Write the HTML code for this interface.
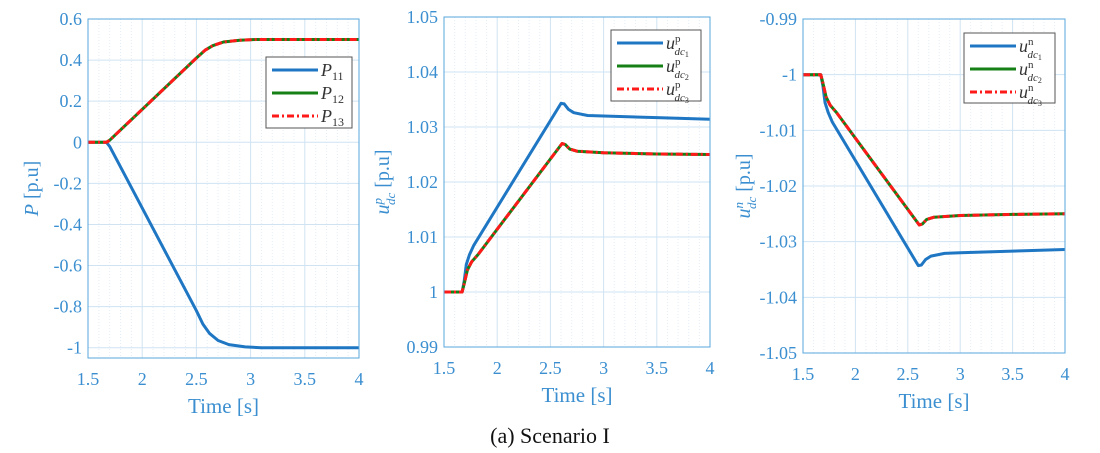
<!DOCTYPE html>
<html><head><meta charset="utf-8"><style>
html,body{margin:0;padding:0;background:#fff;}
svg{display:block;font-family:"Liberation Serif",serif;}
</style></head><body>
<svg id="s" width="1100" height="453" xmlns="http://www.w3.org/2000/svg"></svg>
<script>
const S=document.getElementById('s');let h='';
const AX='#5aa7dc',TX='#3b8fd0',GR='#cfe3f3',MG='#e3eef8';
function panel(L,R,T,B,y0,y1,yt,fmt,series,leg,ylab,ylx){
 const X=x=>L+(x-1.5)/2.5*(R-L), Y=y=>B-(y-y0)/(y1-y0)*(B-T);
 for(let x=1.6;x<4;x+=0.1){ if(Math.abs((x*2)-Math.round(x*2))<1e-6)continue;
  h+=`<line x1="${X(x)}" x2="${X(x)}" y1="${T}" y2="${B}" stroke="${MG}" stroke-width="1" stroke-dasharray="1,2"/>`;}
 for(let x=1.5;x<=4.001;x+=0.5){h+=`<line x1="${X(x)}" x2="${X(x)}" y1="${T}" y2="${B}" stroke="${GR}"/>`;
  h+=`<text x="${X(x)}" y="${B+27}" font-size="18" fill="${TX}" text-anchor="middle">${+x.toFixed(1)}</text>`;}
 yt.forEach(v=>{h+=`<line x1="${L}" x2="${R}" y1="${Y(v)}" y2="${Y(v)}" stroke="${GR}"/>`;
  h+=`<text x="${L-6}" y="${Y(v)+6}" font-size="18" fill="${TX}" text-anchor="end">${fmt(v)}</text>`;});
 series.forEach(s=>{let d=s.pts.map((p,i)=>(i?'L':'M')+X(p[0]).toFixed(1)+','+Y(p[1]).toFixed(1)).join('');
  h+=`<path d="${d}" fill="none" stroke="${s.c}" stroke-width="${s.w}" ${s.da?'stroke-dasharray="'+s.da+'"':''} stroke-linejoin="round"/>`;});
 h+=`<rect x="${L}" y="${T}" width="${R-L}" height="${B-T}" fill="none" stroke="${AX}" stroke-width="1"/>`;
 h+=`<text x="${(L+R)/2}" y="${B+55}" font-size="21" fill="${TX}" text-anchor="middle">Time [s]</text>`;
 h+=`<text transform="translate(${ylx},${(T+B)/2}) rotate(-90)" font-size="20" fill="${TX}" text-anchor="middle">${ylab}</text>`;
 const [lx,ly,lw,lh,labs]=leg;
 h+=`<rect x="${lx}" y="${ly}" width="${lw}" height="${lh}" fill="#fff" stroke="#555" stroke-width="1"/>`;
 const cs=[['#1f77c4',''],['#168016',''],['#ff1a1a','7,3,2,3']];
 labs.forEach((t,i)=>{const yy=ly+13+i*23;
  h+=`<line x1="${lx+6}" x2="${lx+52}" y1="${yy}" y2="${yy}" stroke="${cs[i][0]}" stroke-width="3" ${cs[i][1]?'stroke-dasharray="'+cs[i][1]+'"':''}/>`;
  h+=`<text x="${lx+55}" y="${yy+6}" font-size="18" fill="#333">${t}</text>`;});
}
const p11=[[1.5,0],[1.67,0],[1.7,-0.02],[2.5,-0.82],[2.56,-0.885],[2.62,-0.93],[2.7,-0.965],[2.8,-0.985],[2.95,-0.996],[3.1,-1],[4,-1]];
const p12=[[1.5,0],[1.67,0],[1.7,0.01],[2.5,0.41],[2.58,0.448],[2.65,0.47],[2.75,0.488],[2.9,0.497],[3.05,0.5],[4,0.5]];
const sub=(b,s)=>`<tspan font-style="italic">${b}</tspan><tspan font-size="12" dy="4">${s}</tspan>`;
panel(88,359,19,358,-1.05,0.6,[0.6,0.4,0.2,0,-0.2,-0.4,-0.6,-0.8,-1],v=>v===0?'0':(+v.toFixed(1)).toString(),
 [{pts:p11,c:'#1f77c4',w:3},{pts:p12,c:'#168016',w:3},{pts:p12,c:'#ff1a1a',w:3,da:'7,3,2,3'}],
 [266,57,86,71,[sub('P','11'),sub('P','12'),sub('P','13')]],
 '<tspan font-style="italic">P</tspan> [p.u]',38);
const b2=[[1.5,1],[1.67,1],[1.69,1.002],[1.71,1.005],[1.74,1.0068],[1.78,1.0085],[2.6,1.0343],[2.63,1.0342],[2.67,1.0332],[2.72,1.0326],[2.85,1.0321],[3,1.032],[3.5,1.0317],[4,1.0314]];
const r2=[[1.5,1],[1.67,1],[1.69,1.0015],[1.72,1.004],[1.76,1.0055],[1.82,1.0068],[2.61,1.027],[2.64,1.0268],[2.68,1.026],[2.75,1.0256],[3,1.0253],[3.5,1.0251],[4,1.025]];
const u=(sp,s)=>`<tspan font-style="italic">u</tspan><tspan font-size="11" dy="-7">${sp}</tspan><tspan font-size="11" font-style="italic" dx="-6" dy="13">dc</tspan><tspan font-size="8" dy="2">${s}</tspan>`;
panel(444,710,17,347,0.99,1.05,[1.05,1.04,1.03,1.02,1.01,1,0.99],v=>v===1?'1':v.toFixed(2),
 [{pts:b2,c:'#1f77c4',w:3},{pts:r2,c:'#168016',w:3},{pts:r2,c:'#ff1a1a',w:3,da:'7,3,2,3'}],
 [611,30,90,71,[u('p','1'),u('p','2'),u('p','3')]],
 '<tspan font-style="italic">u</tspan><tspan font-size="13" font-style="italic" dy="-7">p</tspan><tspan font-size="13" font-style="italic" dx="-7" dy="13">dc</tspan><tspan dy="-6"> [p.u]</tspan>',389);
const neg=a=>a.map(p=>[p[0],-p[1]]);
panel(803,1065,19,353,-1.05,-0.99,[-0.99,-1,-1.01,-1.02,-1.03,-1.04,-1.05],v=>Math.abs(v+1)<1e-9?'-1':v.toFixed(2),
 [{pts:neg(b2),c:'#1f77c4',w:3},{pts:neg(r2),c:'#168016',w:3},{pts:neg(r2),c:'#ff1a1a',w:3,da:'7,3,2,3'}],
 [964,33,91,70,[u('n','1'),u('n','2'),u('n','3')]],
 '<tspan font-style="italic">u</tspan><tspan font-size="13" font-style="italic" dy="-7">n</tspan><tspan font-size="13" font-style="italic" dx="-7" dy="13">dc</tspan><tspan dy="-6"> [p.u]</tspan>',750);
h+=`<text x="550" y="443" font-size="22" fill="#111" text-anchor="middle">(a) Scenario I</text>`;
S.innerHTML=h;
</script>
</body></html>
